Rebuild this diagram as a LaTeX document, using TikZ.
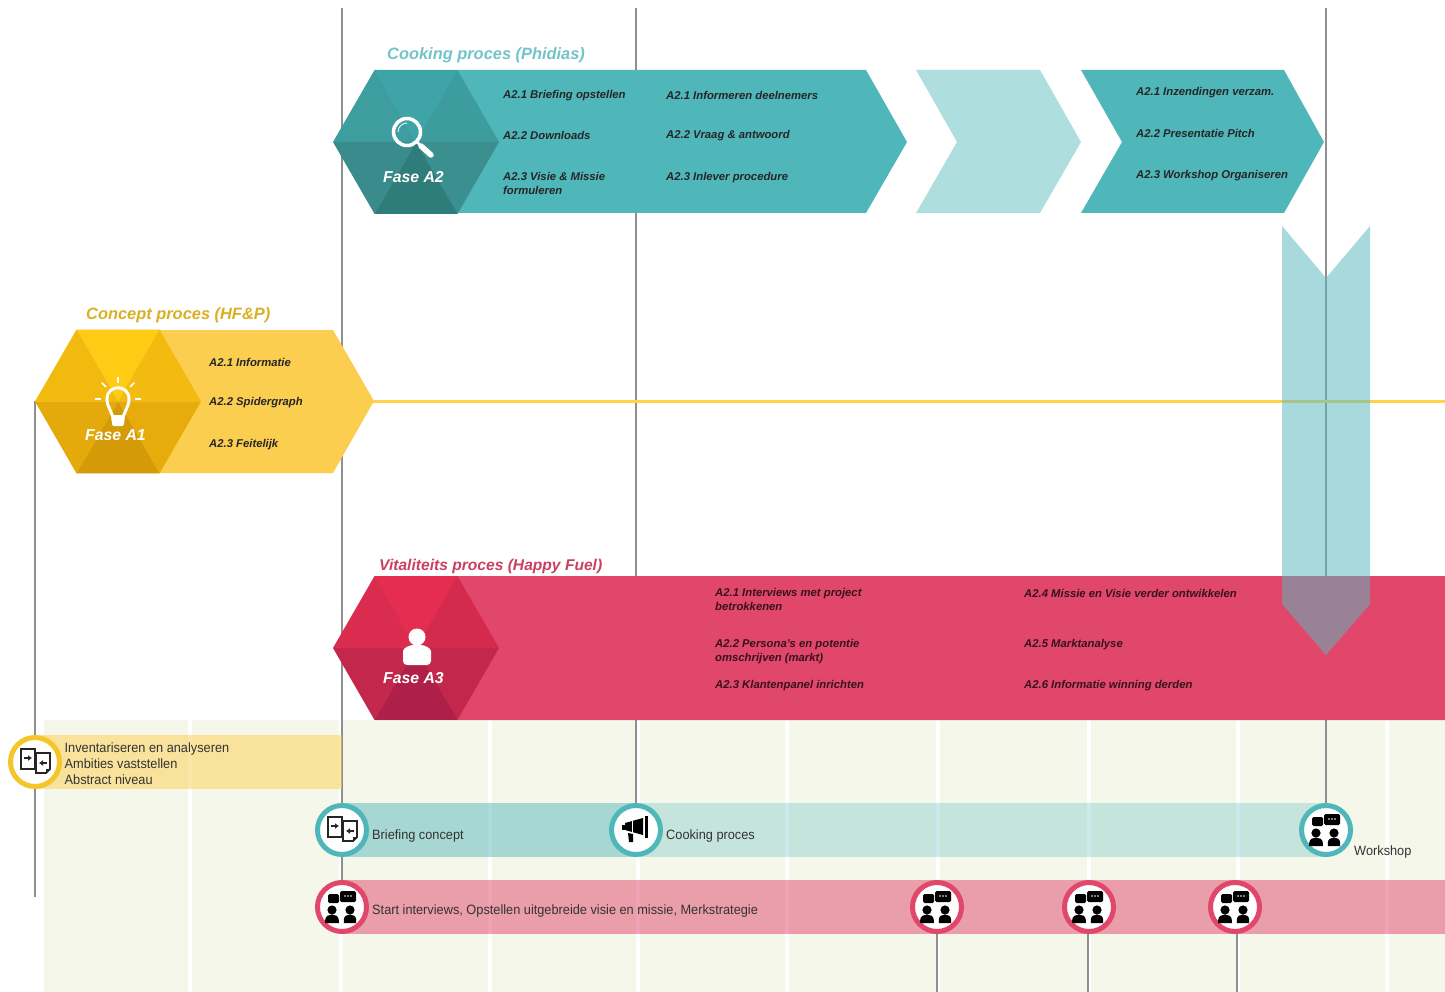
\documentclass[tikz,border=0pt]{standalone}
\usepackage{fontspec}
\setmainfont{Liberation Sans}
\newfontfamily\plainfont[FakeStretch=0.945]{Liberation Sans}
\usetikzlibrary{backgrounds,arrows.meta}
\pgfdeclarelayer{base}
\pgfsetlayers{base,background,main}

\definecolor{tealA}{HTML}{4FB6BA}
\definecolor{tealB}{HTML}{AEDEDE}
\definecolor{tealC}{HTML}{59B9BE}
\definecolor{yellowA}{HTML}{FBCE50}
\definecolor{yellowL}{HTML}{FFD24A}
\definecolor{yellowR}{HTML}{F5C62A}
\definecolor{redA}{HTML}{E0476B}
\definecolor{paleA}{HTML}{F5F7EA}
\definecolor{lineA}{HTML}{8E8F91}

\tikzset{
  item/.style={anchor=west,inner sep=0pt,align=left,text=black!85,
               font=\fontsize{11.3}{14}\selectfont\bfseries\itshape},
  itemred/.style={item,text=black!75!redA},
  title/.style={anchor=west,inner sep=0pt,font=\fontsize{16.4}{18}\selectfont\bfseries\itshape},
  fase/.style={inner sep=0pt,text=white,font=\fontsize{15.8}{18}\selectfont\bfseries\itshape},
  plain/.style={anchor=west,inner sep=0pt,align=left,text=black!80,
                font=\plainfont\fontsize{13.5}{16.3}\selectfont},
  stop/.style={circle,draw=#1,line width=5pt,fill=white,minimum size=49pt,inner sep=0pt},
  vline/.style={draw=lineA,line width=1.4pt},
  pics/docswap/.style={code={
    \draw[black!85,line width=1.8pt] (-14,-13) rectangle (0,7);
    \draw[black!85,line width=1.8pt,fill=white] (1,-9) -- (15,-9) -- (15,7) -- (11,11) -- (1,11) -- cycle;
    \fill[black!85] (15,7) -- (11,11) -- (11,7) -- cycle;
    \draw[black!85,line width=1.7pt,-{Latex[length=4pt,width=6pt]}] (-11,-4) -- (-3,-4);
    \draw[black!85,line width=1.7pt,-{Latex[length=4pt,width=6pt]}] (12,1) -- (4,1);
  }},
  pics/chat/.style={code={
    \fill[black,rounded corners=1.5pt] (-14,-13) rectangle (-3,-4);
    \fill[black,rounded corners=1.5pt] (-2,-16) rectangle (14,-5);
    \foreach \dotx in {3,6,9} \fill[white] (\dotx,-11) circle (0.8);
    \foreach \px/\w in {-10/6.8,8/6.2} {
      \fill[black] (\px,3) circle (4.6);
      \fill[black] (\px-\w,16) -- (\px-\w,13) .. controls (\px-\w,9) and (\px-3,7.5) .. (\px,7.5)
        .. controls (\px+3,7.5) and (\px+\w,9) .. (\px+\w,13) -- (\px+\w,16) -- cycle;
    }
  }},
  pics/horn/.style={code={
    \fill[black] (-11,-7) -- (7,-12) -- (7,5) -- (-11,0) -- cycle;
    \fill[black] (-14,-5) rectangle (-11,0);
    \fill[black] (9,-14) rectangle (12,8);
    \fill[black] (-8,3) -- (-3,4) -- (-3,12) -- (-7,12) -- cycle;
    \fill[white] (-4.5,-9) rectangle (-3.5,3);
  }},
}

% hexagon out of six triangles: name, centre, colours from the top clockwise
\newcommand{\hexa}[9]{%
  \coordinate (#1) at (#2,#3);
  \foreach \ang/\col in {-120/#4,-60/#5,0/#6,60/#7,120/#8,180/#9} {
    \definecolor{hexcol}{HTML}{\col}
    \fill[hexcol] (#1) -- ++(\ang:83) -- ++(\ang+120:83) -- cycle;
  }
}

\begin{document}
\begin{tikzpicture}[x=1pt,y=-1pt]
  \useasboundingbox (0,0) rectangle (1445,992);

  % ground with its white columns
  \begin{pgfonlayer}{base}
    \fill[white] (0,0) rectangle (1445,992);
    \fill[paleA] (44,720) rectangle (1445,992);
    \foreach \sx in {190,341,490,638,787,938,1089,1238,1387}
      \fill[white] (\sx-2,720) rectangle (\sx+2,992);
  \end{pgfonlayer}

  % arrows of the phases
  \fill[tealA] (375,70) -- (866,70) -- (907,142) -- (866,213) -- (375,213) -- (334,142) -- cycle;
  \fill[tealB] (916,70) -- (1040,70) -- (1081,142) -- (1040,213) -- (916,213) -- (957,142) -- cycle;
  \fill[tealA] (1081,70) -- (1284,70) -- (1324,142) -- (1284,213) -- (1081,213) -- (1122,142) -- cycle;
  \fill[yellowA] (77,330) -- (333,330) -- (374,401) -- (333,473) -- (77,473) -- (36,401) -- cycle;
  \fill[redA] (375,576) -- (1445,576) -- (1445,720) -- (375,720) -- (334,648) -- cycle;

  \hexa{hexB}{416}{142}{3FA4A8}{3D9C9E}{3C8F8F}{2F7D7B}{3A8C8C}{3E9E9F}
  \hexa{hexA}{118}{401.5}{FFCB14}{F3BA10}{E7AC0C}{D49A08}{E4A90B}{F2B90F}
  \hexa{hexC}{416}{648}{E42D50}{D42A4D}{C4274C}{AE2048}{C4274C}{D92C4F}

  \fill[tealC,opacity=.52] (1282,226) -- (1326,278) -- (1370,226) -- (1370,604) -- (1326,655) -- (1282,604) -- cycle;

  % bars
  \fill[yellowA,opacity=.5] (35,735) rectangle (342,789);
  \fill[tealC,opacity=.5] (342,803) rectangle (636,857);
  \fill[tealC,opacity=.3] (636,803) rectangle (1326,857);
  \fill[redA,opacity=.5] (342,880) rectangle (1445,934);

  % stops
  \node[stop=yellowR] (stopA)  at (35,762)   {};
  \node[stop=tealA]   (stopB)  at (342,830)  {};
  \node[stop=tealA]   (stopC)  at (636,830)  {};
  \node[stop=tealA]   (stopD)  at (1326,830) {};
  \node[stop=redA]    (stopE)  at (342,907)  {};
  \node[stop=redA]    (stopF)  at (937,907)  {};
  \node[stop=redA]    (stopG)  at (1089,907) {};
  \node[stop=redA]    (stopH)  at (1235,907) {};

  \pic at (stopA) {docswap};
  \pic at (stopB) {docswap};
  \pic at (stopC) {horn};
  \pic at (stopD) {chat};
  \pic at (stopE) {chat};
  \pic at (stopF) {chat};
  \pic at (stopG) {chat};
  \pic at (stopH) {chat};

  % free ends of the lines
  \coordinate (topB) at (342,8);
  \coordinate (topC) at (636,8);
  \coordinate (topD) at (1326,8);
  \coordinate (endA) at (35,897);
  \coordinate (startA) at (35,401);
  \coordinate (endF) at (937,992);
  \coordinate (endG) at (1088,992);
  \coordinate (endH) at (1237,992);
  \coordinate (tipA) at (370,401);
  \coordinate (endL) at (1445,401);

  \begin{pgfonlayer}{background}
    \draw[vline] (topB) -- (stopE);
    \draw[vline] (topC) -- (stopC);
    \draw[vline] (topD) -- (stopD);
    \draw[vline] (startA) -- (endA);
    \draw[vline] (stopF) -- (endF);
    \draw[vline] (endG) -- (stopG.south -| endG);
    \draw[vline] (endH) -- (stopH.south -| endH);
    \draw[yellowL,line width=3pt] (tipA) -- (endL);
  \end{pgfonlayer}

  % icons of the hexagons
  \draw[white,line width=3.5pt] (407,132) circle (13.5);
  \draw[white!80!tealA,line width=1pt] (398,132) arc (180:270:9);
  \draw[white,line width=2.5pt] (417,142) -- (421,146);
  \draw[white,line width=5.5pt,line cap=round] (421,146) -- (431,155);

  \draw[white,line width=3pt] (113,420) .. controls (113,412) and (107,408) .. (107,399)
    .. controls (107,384) and (129,384) .. (129,399) .. controls (129,408) and (123,412) .. (123,420) -- cycle;
  \fill[white,rounded corners=2pt] (112,415) rectangle (124,426);
  \foreach \ang in {0,45,90,135,180}
    \draw[white,line width=1.6pt] (118,399) ++(-\ang:\ifnum\ang=90 16\else 17\fi) -- ++(-\ang:6);

  \fill[white] (417,637) circle (8.5);
  \fill[white,rounded corners=4pt] (403,665) -- (403,655) .. controls (403,648) and (410,645) .. (417,645)
    .. controls (424,645) and (431,648) .. (431,655) -- (431,665) -- cycle;

  % labels
  \node[fase] (faseB) at (413.5,177) {Fase A2};
  \node[fase] (faseA) at (115.5,435) {Fase A1};
  \node[fase] (faseC) at (413.5,678) {Fase A3};

  \node[title,text=tealC!85] (titleB) at (387,55.5) {Cooking proces (Phidias)};
  \node[title,text=yellow!55!orange!85!black] (titleA) at (86,315.5) {Concept proces (HF\&P)};
  \node[title,text=redA!90!black,font=\fontsize{15.6}{18}\selectfont\bfseries\itshape] (titleC) at (379,566.5) {Vitaliteits proces (Happy Fuel)};

  \node[item] (b1) at (503,96)  {A2.1 Briefing opstellen};
  \node[item] (b2) at (503,135) {A2.2 Downloads};
  \node[item] (b3) at (503,183) {A2.3 Visie \& Missie\\formuleren};
  \node[item] (b4) at (666,95)  {A2.1 Informeren deelnemers};
  \node[item] (b5) at (666,136) {A2.2 Vraag \& antwoord};
  \node[item] (b6) at (666,178) {A2.3 Inlever procedure};
  \node[item] (b7) at (1136,93)  {A2.1 Inzendingen verzam.};
  \node[item] (b8) at (1136,133) {A2.2 Presentatie Pitch};
  \node[item] (b9) at (1136,175.5) {A2.3 Workshop Organiseren};

  \node[item] (a1) at (209,362) {A2.1 Informatie};
  \node[item] (a2) at (209,403) {A2.2 Spidergraph};
  \node[item] (a3) at (209,445) {A2.3 Feitelijk};

  \node[itemred] (c1) at (715,599) {A2.1 Interviews met project\\betrokkenen};
  \node[itemred] (c2) at (715,652) {A2.2 Persona's en potentie\\omschrijven (markt)};
  \node[itemred] (c3) at (715,686) {A2.3 Klantenpanel inrichten};
  \node[itemred] (c4) at (1024,593) {A2.4 Missie en Visie verder ontwikkelen};
  \node[itemred] (c5) at (1024,645) {A2.5 Marktanalyse};
  \node[itemred] (c6) at (1024,686) {A2.6 Informatie winning derden};

  \node[plain] (inv) at (64.5,763.5) {Inventariseren en analyseren\\Ambities vaststellen\\Abstract niveau};
  \node[plain] (bri) at (372,836) {Briefing concept};
  \node[plain] (coo) at (666,836) {Cooking proces};
  \node[plain] (wor) at (1354,852.5) {Workshop};
  \node[plain] (sta) at (372,911) {Start interviews, Opstellen uitgebreide visie en missie, Merkstrategie};
\end{tikzpicture}
\end{document}
